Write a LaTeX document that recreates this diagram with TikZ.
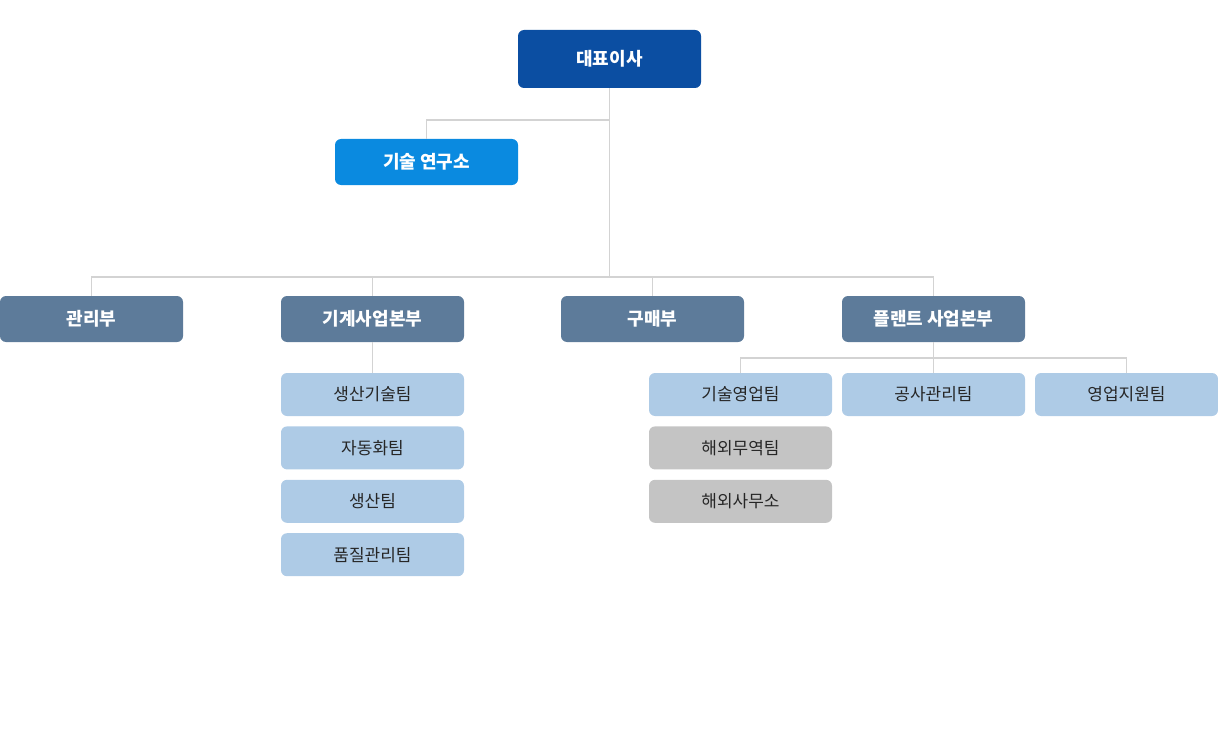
\documentclass[tikz,border=0pt]{standalone}
\usepackage{fontspec}
\setmainfont{Noto Sans CJK KR}
\usetikzlibrary{positioning}
\definecolor{ceoblue}{HTML}{0B4EA2}
\definecolor{labblue}{HTML}{0A8AE0}
\definecolor{deptgray}{HTML}{5D7B9A}
\definecolor{teamblue}{HTML}{AECBE6}
\definecolor{teamgray}{HTML}{C4C4C4}
\definecolor{linegray}{HTML}{D3D3D3}
\tikzset{
  box/.style={rounded corners=6pt, minimum width=183pt, minimum height=46pt, inner sep=0pt, font=\fontsize{18pt}{20pt}\selectfont\bfseries, text=white},
  team/.style={rounded corners=6pt, minimum width=183pt, minimum height=43pt, inner sep=0pt, font=\fontsize{17pt}{19pt}\selectfont, text=black!85, fill=teamblue},
  link/.style={draw=linegray, line width=1.6pt}
}
\begin{document}
\begin{tikzpicture}[x=1pt,y=-1pt]
   \useasboundingbox (0,0) rectangle (1218,733);
   \node[box, fill=ceoblue, minimum height=58pt] (ceo) at (609.5,59) {대표이사};
   \node[box, fill=labblue] (lab) at (426.5,162) {기술 연구소};
   \node[box, fill=deptgray] (adm) at (91.5,319) {관리부};
   \node[box, fill=deptgray] (mech) at (372.5,319) {기계사업본부};
   \node[box, fill=deptgray] (buy) at (652.5,319) {구매부};
   \node[box, fill=deptgray] (plant) at (933.5,319) {플랜트 사업본부};
   % teams
   \node[team] (prodtech) at (372.5,394.5) {생산기술팀};
   \node[team, below=10pt of prodtech] (auto) {자동화팀};
   \node[team, below=10pt of auto] (prod) {생산팀};
   \node[team, below=10pt of prod] (qual) {품질관리팀};
   \node[team] (sales) at (740.5,394.5) {기술영업팀};
   \node[team, fill=teamgray, below=10pt of sales] (trade) {해외무역팀};
   \node[team, fill=teamgray, below=10pt of trade] (office) {해외사무소};
   \node[team] (cons) at (933.5,394.5) {공사관리팀};
   \node[team] (supp) at (1126.5,394.5) {영업지원팀};
   \coordinate (hub) at (609.5,277);
   \coordinate (fork) at (933.5,358);
   % connectors
   \draw[link] (ceo.south) -- (hub);
   \draw[link] (ceo.south |- 0,120) -| (lab.north);
   \draw[link] (hub) -| (adm.north);
   \draw[link] (hub) -| (mech.north);
   \draw[link] (hub) -| (buy.north);
   \draw[link] (hub) -| (plant.north);
   \draw[link] (mech.south) -- (prodtech.north);
   \draw[link] (plant.south) -- (fork);
   \draw[link] (fork) -| (sales.north);
   \draw[link] (fork) -- (cons.north);
   \draw[link] (fork) -| (supp.north);
\end{tikzpicture}
\end{document}
